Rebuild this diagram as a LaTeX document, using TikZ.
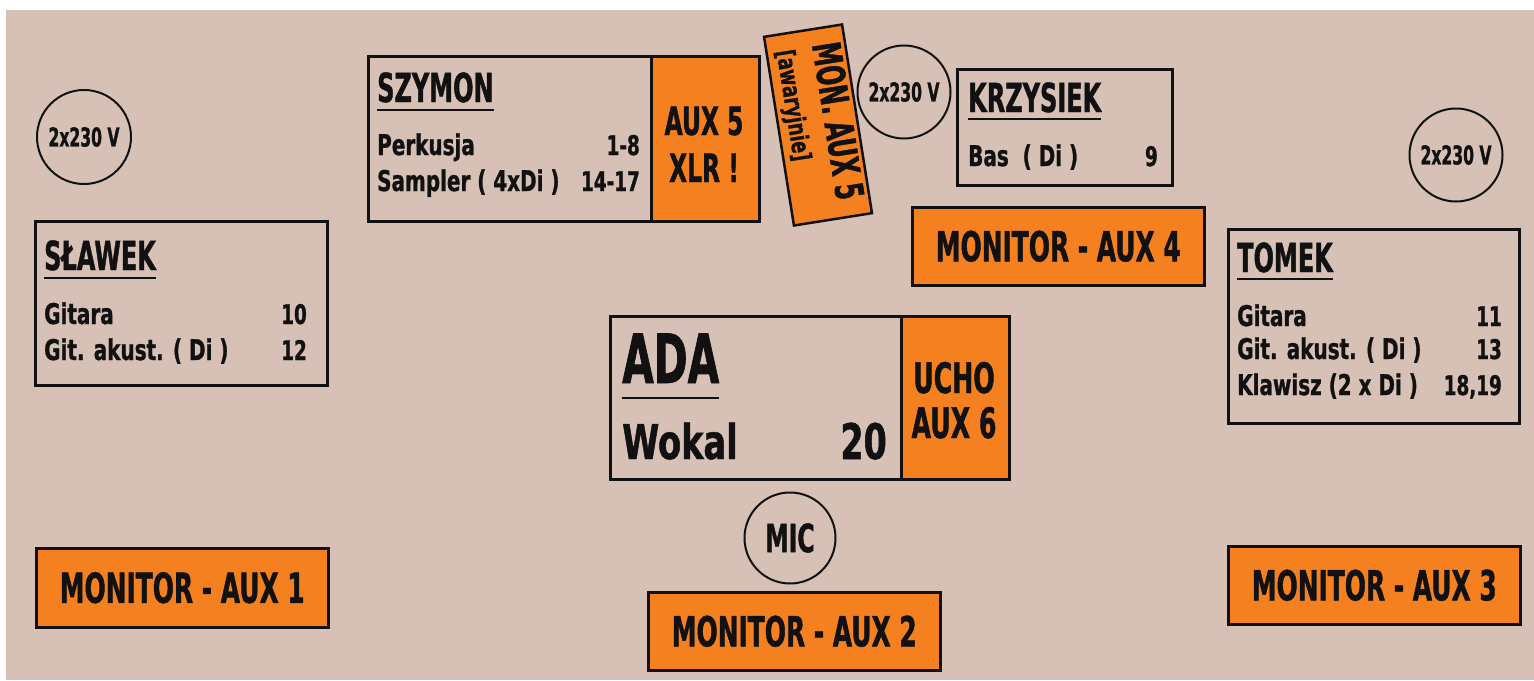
\documentclass[tikz,border=0pt]{standalone}
\usepackage{fontspec}
\newfontfamily\impact{DejaVu Sans}[FakeStretch=0.6,FakeBold=1]
\newfontfamily\impactlc{DejaVu Sans}[FakeStretch=0.7,FakeBold=1]
\newfontfamily\impactnum{DejaVu Sans}[FakeStretch=0.68,FakeBold=1]
\newcommand{\capsat}[1]{\impact\bfseries\fontsize{#1}{#1}\selectfont}
\newcommand{\textat}[1]{\impactlc\bfseries\fontsize{#1}{#1}\selectfont}
\newcommand{\numat}[1]{\impactnum\bfseries\fontsize{#1}{#1}\selectfont}
\definecolor{stage}{RGB}{215,192,182}
\definecolor{amp}{RGB}{245,128,32}
\definecolor{ink}{RGB}{17,17,17}
\tikzset{
  stagebox/.style={draw=ink,line width=2.5pt,fill=stage,inner sep=0pt,anchor=north west,text=ink},
  auxbox/.style={stagebox,fill=amp},
  monbox/.style={auxbox,minimum width=292,font=\capsat{41.5pt}},
  socket/.style={circle,draw=ink,line width=2pt,fill=stage,inner sep=0pt,minimum size=#1,text=ink},
  lbl/.style={inner sep=0pt,text=ink},
  nametag/.style={lbl,font=\capsat{40pt},anchor=base west},
  chan/.style={lbl,font=\textat{28.5pt},anchor=base west},
  chnum/.style={lbl,font=\numat{27pt},anchor=base east},
  uline/.style={draw=ink,line width=2pt}
}
\begin{document}
\begin{tikzpicture}[x=1pt,y=-1pt]
  \useasboundingbox (0,0) rectangle (1534,680);
  \fill[white] (0,0) rectangle (1534,680);
  \fill[stage] (6,10) rectangle (1534,680);

  % power sockets and mic
  \node[socket=94,font=\capsat{26pt}] (pwrL) at (84,137) {2x230 V};
  \node[socket=93,font=\capsat{26pt}] (pwrM) at (904,92) {2x230 V};
  \node[socket=93,font=\capsat{26pt}] (pwrR) at (1456,155) {2x230 V};
  \node[socket=91,font=\capsat{39pt}] (mic) at (790,538) {MIC};

  % SLAWEK
  \node[stagebox,minimum width=292,minimum height=164] (slawek) at (34,220) {};
  \node[nametag] (slawekN) at (44,270) {SŁAWEK};
  \draw[uline] ([yshift=-8pt]slawekN.base west) -- ([yshift=-8pt]slawekN.base east);
  \node[chan] (slawekA) at (44,324) {Gitara};
  \node[chnum] (slawekAn) at (307,324) {10};
  \node[chan] (slawekB) at (44,360) {Git. akust. ( Di )};
  \node[chnum] (slawekBn) at (307,360) {12};

  % SZYMON
  \node[stagebox,minimum width=283,minimum height=165] (szymon) at (367,55) {};
  \node[auxbox,minimum width=108,minimum height=165] (szymonAux) at (650,55) {};
  \node[nametag] (szymonN) at (377,102) {SZYMON};
  \draw[uline] ([yshift=-8pt]szymonN.base west) -- ([yshift=-8pt]szymonN.base east);
  \node[chan] (szymonA) at (377,155) {Perkusja};
  \node[chnum] (szymonAn) at (640,155) {1-8};
  \node[chan] (szymonB) at (377,191) {Sampler ( 4xDi )};
  \node[chnum] (szymonBn) at (640,191) {14-17};
  \node[lbl,font=\capsat{39pt},anchor=base] (aux5a) at (704,135) {AUX 5};
  \node[lbl,font=\capsat{39pt},anchor=base] (aux5b) at (704,182) {XLR !};

  % spare monitor
  \begin{scope}[shift={(818,125)},rotate=-81]
    \node[auxbox,transform shape,anchor=center,minimum width=191,minimum height=79] (monAux) at (0,0) {};
    \node[lbl,transform shape,font=\capsat{39pt},anchor=base west] (monAuxA) at (-80.5,-6.5) {MON. AUX 5};
    \node[lbl,transform shape,font=\textat{25pt},anchor=base west] (monAuxB) at (-79.5,29.5) {[awaryjnie]};
  \end{scope}

  % KRZYSIEK
  \node[stagebox,minimum width=215,minimum height=116] (krzys) at (956,68) {};
  \node[nametag] (krzysN) at (968,112) {KRZYSIEK};
  \draw[uline] ([yshift=-7pt]krzysN.base west) -- ([yshift=-7pt]krzysN.base east);
  \node[chan] (krzysA) at (968,166) {Bas\ \ ( Di )};
  \node[chnum] (krzysAn) at (1158,166) {9};

  % TOMEK
  \node[stagebox,minimum width=291,minimum height=194] (tomek) at (1227,228) {};
  \node[nametag] (tomekN) at (1237,272) {TOMEK};
  \draw[uline] ([yshift=-7pt]tomekN.base west) -- ([yshift=-7pt]tomekN.base east);
  \node[chan] (tomekA) at (1237,326) {Gitara};
  \node[chnum] (tomekAn) at (1502,326) {11};
  \node[chan] (tomekB) at (1237,359) {Git. akust. ( Di )};
  \node[chnum] (tomekBn) at (1502,359) {13};
  \node[chan] (tomekC) at (1237,395) {Klawisz (2 x Di )};
  \node[chnum] (tomekCn) at (1502,395) {18,19};

  % ADA
  \node[stagebox,minimum width=291,minimum height=163] (ada) at (609,315) {};
  \node[auxbox,minimum width=108,minimum height=163] (adaAux) at (900,315) {};
  \node[lbl,font=\capsat{68pt},anchor=base west] (adaN) at (622,383) {ADA};
  \draw[uline,line width=2.7pt] ([yshift=-15pt]adaN.base west) -- ([yshift=-15pt]adaN.base east);
  \node[lbl,font=\textat{48pt},anchor=base west] (adaA) at (622,459) {Wokal};
  \node[lbl,font=\numat{49pt},anchor=base east] (adaAn) at (887,459) {20};
  \node[lbl,font=\capsat{42pt},anchor=base] (uchoA) at (954,393) {UCHO};
  \node[lbl,font=\capsat{42pt},anchor=base] (uchoB) at (954,438) {AUX 6};

  % monitors
  \node[monbox,minimum height=79] (mon1) at (35,547) {MONITOR - AUX 1};
  \node[monbox,minimum height=78] (mon2) at (647,591) {MONITOR - AUX 2};
  \node[monbox,minimum height=78] (mon3) at (1227,545) {MONITOR - AUX 3};
  \node[monbox,minimum height=78] (mon4) at (911,206) {MONITOR - AUX 4};
\end{tikzpicture}
\end{document}
